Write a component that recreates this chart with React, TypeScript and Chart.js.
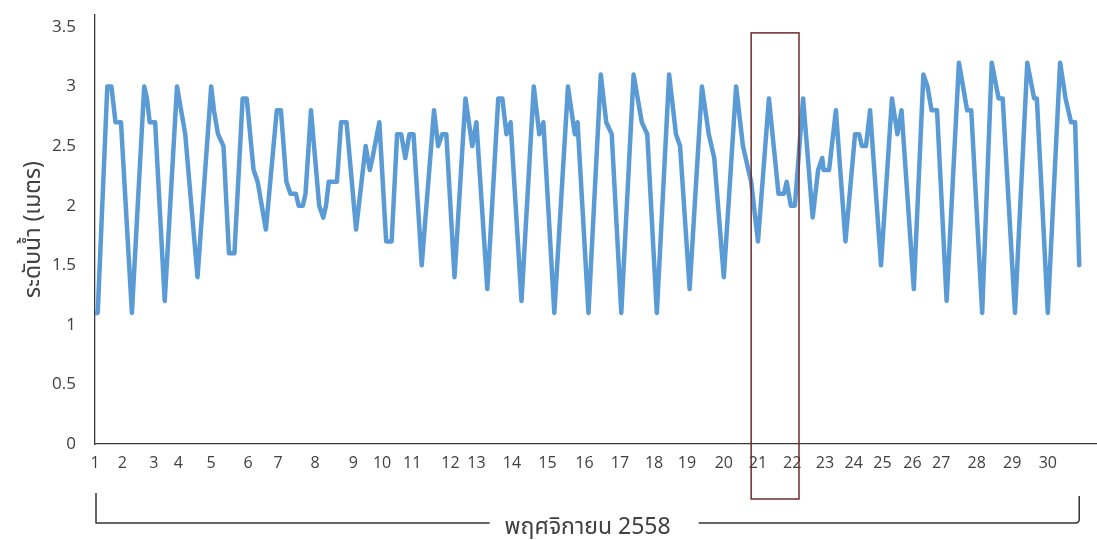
import React, { useEffect, useRef } from 'react';
import { Chart, registerables } from 'chart.js';

Chart.register(...registerables);

// Water level turning points: hour counted from 00:00 on 1 November, level in metres
const hours = [
  0, 2, 9, 12, 15, 19, 27, 36, 38, 40,
  44, 51, 60, 63, 66, 75, 85, 87, 90, 94,
  98, 102, 108, 111, 116, 119, 125, 133, 136, 140,
  143, 147, 149, 152, 154, 158, 164, 167, 169, 171,
  177, 180, 184, 191, 198, 201, 203, 208, 213, 217,
  221, 224, 227, 230, 233, 239, 248, 251, 254, 257,
  263, 271, 276, 279, 287, 295, 298, 301, 304, 312,
  321, 325, 328, 336, 346, 351, 353, 361, 370, 374,
  378, 385, 394, 400, 404, 411, 420, 425, 428, 435,
  444, 449, 453, 460, 469, 474, 478, 480, 485, 493,
  500, 504, 506, 509, 512, 518, 525, 529, 532, 533,
  537, 542, 549, 556, 559, 561, 564, 567, 575, 583,
  587, 590, 599, 606, 609, 612, 616, 623, 632, 635,
  638, 641, 649, 656, 661, 664, 673, 682, 687, 689,
  697, 706, 710, 714, 717, 720,
];

const levels = [
  1.1, 1.1, 3.0, 3.0, 2.7, 2.7, 1.1, 3.0, 2.9, 2.7,
  2.7, 1.2, 3.0, 2.8, 2.6, 1.4, 3.0, 2.8, 2.6, 2.5,
  1.6, 1.6, 2.9, 2.9, 2.3, 2.2, 1.8, 2.8, 2.8, 2.2,
  2.1, 2.1, 2.0, 2.0, 2.1, 2.8, 2.0, 1.9, 2.0, 2.2,
  2.2, 2.7, 2.7, 1.8, 2.5, 2.3, 2.4, 2.7, 1.7, 1.7,
  2.6, 2.6, 2.4, 2.6, 2.6, 1.5, 2.8, 2.5, 2.6, 2.6,
  1.4, 2.9, 2.5, 2.7, 1.3, 2.9, 2.9, 2.6, 2.7, 1.2,
  3.0, 2.6, 2.7, 1.1, 3.0, 2.6, 2.7, 1.1, 3.1, 2.7,
  2.6, 1.1, 3.1, 2.7, 2.6, 1.1, 3.1, 2.6, 2.5, 1.3,
  3.0, 2.6, 2.4, 1.4, 3.0, 2.5, 2.3, 2.2, 1.7, 2.9,
  2.1, 2.1, 2.2, 2.0, 2.0, 2.9, 1.9, 2.3, 2.4, 2.3,
  2.3, 2.8, 1.7, 2.6, 2.6, 2.5, 2.5, 2.8, 1.5, 2.9,
  2.6, 2.8, 1.3, 3.1, 3.0, 2.8, 2.8, 1.2, 3.2, 3.0,
  2.8, 2.8, 1.1, 3.2, 2.9, 2.9, 1.1, 3.2, 2.9, 2.9,
  1.1, 3.2, 2.9, 2.7, 2.7, 1.5,
];

// Day-of-month labels and the hour at which each one sits on the axis
const dayLabels = [
  '1', '2', '3', '4', '5', '6', '7', '8', '9', '10',
  '11', '12', '13', '14', '15', '16', '17', '18', '19', '20',
  '21', '22', '23', '24', '25', '26', '27', '28', '29', '30',
];
const dayTickHours = [
  0, 20, 43, 61, 85, 112, 134, 161, 189, 210,
  232, 260, 279, 305, 331, 358, 384, 409, 433, 460,
  485, 510, 534, 555, 576, 598, 619, 645, 671, 697,
];

const yAxisTitle = 'ระดับน้ำ (เมตร)';
const monthLabel = 'พฤศจิกายน 2558';
// Hours framed by the highlight box (21–22 Nov)
const highlightHours = [480, 515];
const highlightTopLevel = 3.45;

const TICK_FONT = '"Open Sans", "Noto Sans", sans-serif';
const THAI_FONT = '"Noto Sans Thai", "Noto Sans Thai UI", Tahoma, "Noto Sans", sans-serif';
const TEXT_COLOR = '#404040';
const AXIS_COLOR = '#3a3a3a';

const overlayPlugin = {
  id: 'overlay',
  afterDraw(chart: any) {
    const { ctx, chartArea, scales } = chart;
    const xs = scales.x;
    const ys = scales.y;
    ctx.save();

    // Box around 21–22 November
    const bx0 = xs.getPixelForValue(highlightHours[0]);
    const bx1 = xs.getPixelForValue(highlightHours[1]);
    const by0 = ys.getPixelForValue(highlightTopLevel);
    const by1 = chartArea.bottom + 55;
    ctx.strokeStyle = '#6e2b2b';
    ctx.lineWidth = 1.5;
    ctx.strokeRect(bx0, by0, bx1 - bx0, by1 - by0);

    // Month bracket under the day labels
    const left = chartArea.left + 1;
    const right = xs.getPixelForValue(hours[hours.length - 1]);
    const baseY = chartArea.bottom + 79;
    const mid = (left + right) / 2;
    ctx.font = `23px ${THAI_FONT}`;
    ctx.fillStyle = TEXT_COLOR;
    ctx.textAlign = 'center';
    ctx.textBaseline = 'alphabetic';
    ctx.fillText(monthLabel, mid, baseY + 11);
    const tw = ctx.measureText(monthLabel).width;

    ctx.strokeStyle = '#333333';
    ctx.lineWidth = 1.5;
    ctx.lineJoin = 'round';
    ctx.beginPath();
    ctx.moveTo(left, baseY - 30);
    ctx.lineTo(left, baseY);
    ctx.lineTo(mid - tw / 2 - 15, baseY);
    ctx.moveTo(mid + tw / 2 + 28, baseY);
    ctx.lineTo(right - 4, baseY);
    ctx.quadraticCurveTo(right, baseY, right, baseY - 4);
    ctx.lineTo(right, baseY - 27);
    ctx.stroke();

    ctx.restore();
  },
};

export default function App() {
  const canvasRef = useRef<HTMLCanvasElement>(null);

  useEffect(() => {
    const canvas = canvasRef.current;
    if (!canvas) return;

    const chart = new Chart(canvas, {
      type: 'line',
      data: {
        datasets: [
          {
            data: hours.map((h, i) => ({ x: h, y: levels[i] })),
            borderColor: '#5b9bd5',
            borderWidth: 4.5,
            pointRadius: 0,
            tension: 0,
            fill: false,
            borderJoinStyle: 'round',
            borderCapStyle: 'round',
          },
        ],
      },
      options: {
        animation: false,
        responsive: false,
        layout: { padding: { top: 15, right: 0, bottom: 0, left: 0 } },
        plugins: {
          legend: { display: false },
          tooltip: { enabled: false },
        },
        scales: {
          x: {
            type: 'linear',
            min: 0,
            max: 733,
            afterBuildTicks: (scale: any) => {
              scale.ticks = dayTickHours.map((v) => ({ value: v }));
            },
            afterFit: (scale: any) => {
              scale.height = 96;
              scale.paddingLeft = 0;
              scale.paddingRight = 0;
            },
            grid: { display: false, drawTicks: false },
            border: { color: AXIS_COLOR, width: 1.3 },
            ticks: {
              autoSkip: false,
              maxRotation: 0,
              padding: 10,
              color: TEXT_COLOR,
              font: { family: TICK_FONT, size: 16 },
              callback: (_v: any, i: number) => dayLabels[i],
            },
          },
          y: {
            min: 0,
            max: 3.6,
            afterFit: (scale: any) => {
              scale.width = 95;
              scale.paddingTop = 0;
              scale.paddingBottom = 0;
            },
            grid: { display: false, drawTicks: false },
            border: { color: AXIS_COLOR, width: 1.3 },
            ticks: {
              stepSize: 0.5,
              includeBounds: false,
              padding: 19,
              color: TEXT_COLOR,
              font: { family: TICK_FONT, size: 17 },
              callback: (v: any) => String(Number(v)),
            },
            title: {
              display: true,
              text: yAxisTitle,
              color: TEXT_COLOR,
              font: { family: THAI_FONT, size: 23 },
              padding: { top: 22, bottom: 0 },
            },
          },
        },
      },
      plugins: [overlayPlugin],
    });

    return () => chart.destroy();
  }, []);

  return (
    <div style={{ position: 'fixed', left: 0, top: 0, width: 1097, height: 540, background: '#ffffff' }}>
      <canvas ref={canvasRef} width={1097} height={540} />
    </div>
  );
}
